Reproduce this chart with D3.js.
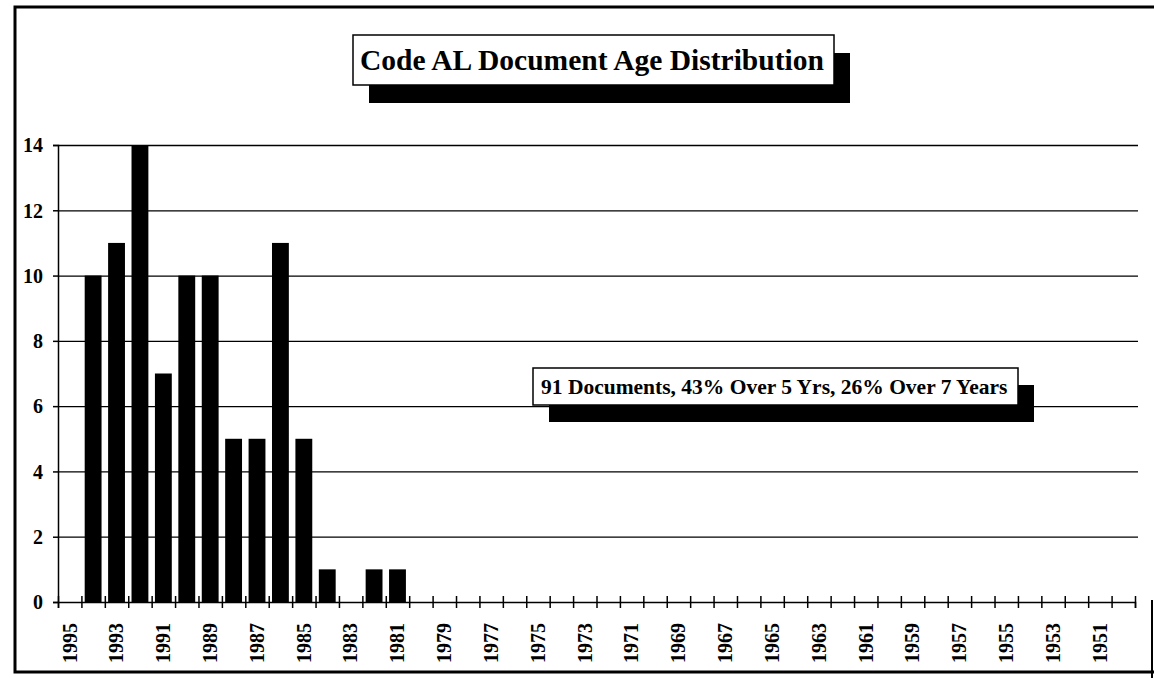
<!DOCTYPE html>
<html>
    <head>
        <meta charset="utf-8">
        <style>
            body { margin: 0; background: #fff; }
            text { font-family: "Liberation Serif", "Times New Roman", serif; font-weight: bold; fill: #000; }
        </style>
    </head>
    <body>
        <svg width="1154" height="678"></svg>
        <script src="https://d3js.org/d3.v7.min.js"></script>
        <script>

            var title = "Code AL Document Age Distribution";
            var note = "91 Documents, 43% Over 5 Yrs, 26% Over 7 Years";
            var years = d3.range(1995, 1949, -1);
            var countYears = [1994, 1993, 1992, 1991, 1990, 1989, 1988, 1987, 1986, 1985, 1984, 1982, 1981];
            var counts = [10, 11, 14, 7, 10, 10, 5, 5, 11, 5, 1, 1, 1];
            var yTicks = [0, 2, 4, 6, 8, 10, 12, 14];
            var labelYears = years.filter(function(d){ return d % 2 === 1; });

            function translator(x, y){
                return 'translate(' + x + ',' + y + ')';
            }

            var data = years.map(function(y){
                var i = countYears.indexOf(y);
                return { year: y, count: i < 0 ? 0 : counts[i] };
            });

            var svg = d3.select('svg');

            // page frame
            svg.append('path')
                .attr('d', 'M1154,7 H15 V672 H1154')
                .attr('fill', 'none')
                .attr('stroke', '#000')
                .attr('stroke-width', 3);
            svg.append('line')
                .attr('x1', 1152).attr('x2', 1152)
                .attr('y1', 600).attr('y2', 678)
                .attr('stroke', '#000').attr('stroke-width', 2);

            var plot = { left: 58, right: 1135, top: 145, bottom: 602 };

            var x = d3.scaleBand()
                .domain(years)
                .range([plot.left, plot.right])
                .paddingInner(0.28)
                .paddingOuter(0.14);
            var xEdge = d3.scaleLinear()
                .domain([0, years.length])
                .range([plot.left, plot.right]);
            var y = d3.scaleLinear()
                .domain([0, 14])
                .range([plot.bottom, plot.top]);

            // gridlines
            svg.append('g')
                .attr('transform', translator(plot.left, 0))
                .call(d3.axisLeft(y).tickValues(yTicks.slice(1)).tickSize(-(plot.right + 3 - plot.left)).tickFormat(''))
                .call(function(g){
                    g.select('.domain').remove();
                    g.selectAll('line').attr('stroke', '#000').attr('stroke-width', 1.3);
                });

            // bars
            svg.append('g').selectAll('rect')
                .data(data.filter(function(d){ return d.count > 0; }))
                .enter().append('rect')
                .attr('x', function(d){ return x(d.year); })
                .attr('width', x.bandwidth())
                .attr('y', function(d){ return y(d.count); })
                .attr('height', function(d){ return y(0) - y(d.count); })
                .attr('fill', '#000');

            // y axis
            svg.append('g')
                .attr('transform', translator(plot.left, 0))
                .call(d3.axisLeft(y).tickValues(yTicks).tickSize(5).tickPadding(10))
                .call(function(g){
                    g.selectAll('path, line').attr('stroke', '#000').attr('stroke-width', 1.5);
                    g.selectAll('text').style('font-size', '20px').attr('dy', '0.34em');
                });

            // x axis line and crossing ticks
            svg.append('g')
                .attr('transform', translator(0, plot.bottom))
                .call(d3.axisBottom(xEdge).tickValues(d3.range(years.length + 1)).tickSize(6).tickFormat(''))
                .call(function(g){
                    g.select('.domain').attr('stroke', '#000').attr('stroke-width', 1.5);
                    g.selectAll('line').attr('y1', -6).attr('stroke', '#000').attr('stroke-width', 1.5);
                });

            // x labels
            svg.append('g')
                .attr('transform', translator(0, plot.bottom))
                .call(d3.axisBottom(x).tickValues(labelYears).tickSize(0).tickPadding(0))
                .call(function(g){
                    g.select('.domain').remove();
                    g.selectAll('text')
                        .style('font-size', '20px')
                        .attr('text-anchor', 'end')
                        .attr('transform', 'rotate(-90)')
                        .attr('x', -21)
                        .attr('y', 0)
                        .attr('dy', '0.34em');
                });

            // boxed labels with drop shadow
            function shadowBox(x0, y0, w, h, off, label, size, tx, ty){
                var g = svg.append('g');
                g.append('rect')
                    .attr('x', x0 + off[0]).attr('y', y0 + off[1])
                    .attr('width', w).attr('height', h)
                    .attr('fill', '#000');
                g.append('rect')
                    .attr('x', x0).attr('y', y0)
                    .attr('width', w).attr('height', h)
                    .attr('fill', '#fff')
                    .attr('stroke', '#000')
                    .attr('stroke-width', 1.5);
                g.append('text')
                    .attr('x', tx).attr('y', ty)
                    .style('font-size', size + 'px')
                    .text(label);
            }

            shadowBox(353, 35, 481, 50, [16, 18], title, 29.5, 360, 70);
            shadowBox(533, 368, 485, 37, [16, 17], note, 21.5, 541, 394);

        </script>
    </body>
</html>
